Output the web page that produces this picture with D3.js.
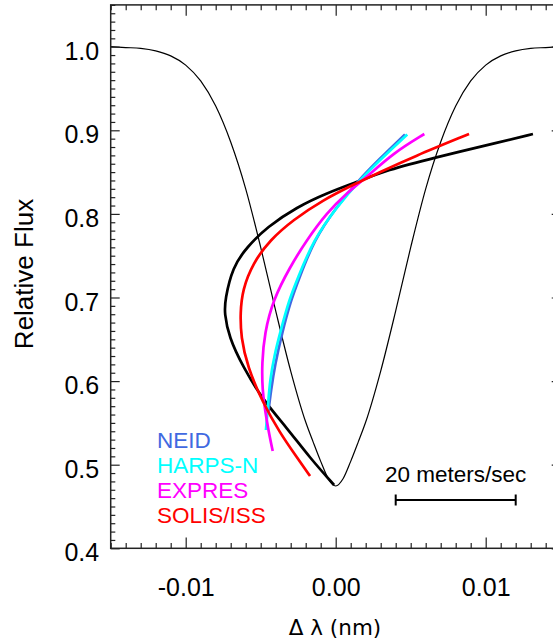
<!DOCTYPE html>
<html><head><meta charset="utf-8">
<script src="https://cdn.jsdelivr.net/npm/d3@7"></script>
<style>html,body{margin:0;padding:0;background:#fff;overflow:hidden}</style>
</head><body><svg id="c" width="553" height="644"></svg>
<script>
// ---------- data ----------
const xDomain = [-0.015, 0.015];
const yDomain = [0.4, 1.05];
const xMajorTicks = [-0.01, 0, 0.01];
const xTickLabels = ["-0.01", "0.00", "0.01"];
const yMajorTicks = [0.4, 0.5, 0.6, 0.7, 0.8, 0.9, 1.0];
const yTickLabels = ["0.4", "0.5", "0.6", "0.7", "0.8", "0.9", "1.0"];

// line profile (thin black)
const profileX = [-0.015,-0.014,-0.013,-0.012,-0.011,-0.010,-0.009,-0.008,-0.007,-0.006,-0.005,-0.004,-0.003,-0.002,-0.0015,-0.001,-0.0005,0,0.0005,0.001,0.0015,0.002,0.003,0.004,0.005,0.006,0.007,0.008,0.009,0.010,0.011,0.012,0.013,0.014,0.015];
const profileY = [1.000,0.999,0.998,0.995,0.989,0.978,0.959,0.929,0.886,0.830,0.760,0.684,0.612,0.551,0.527,0.504,0.4835,0.4745,0.4835,0.504,0.527,0.551,0.612,0.684,0.760,0.830,0.886,0.929,0.959,0.978,0.989,0.995,0.998,0.999,1.000];

// bisectors
const blackX = [-0.00011,-0.00171,-0.00325,-0.00485,-0.00618,-0.00712,-0.00742,-0.00738,-0.00688,-0.00591,-0.00458,-0.00258,-0.00058,0.00142,0.00342,0.00649,0.01095,0.01315];
const blackY = [0.4757,0.508,0.5439,0.5774,0.6169,0.6528,0.6815,0.697,0.7365,0.7604,0.7843,0.8083,0.825,0.8382,0.8525,0.8669,0.886,0.8956];

const neidX = [-0.00451,-0.00431,-0.00405,-0.00358,-0.00298,-0.00248,-0.00145,0.00005,0.00155,0.00285,0.00462];
const neidY = [0.5606,0.5894,0.6193,0.6575,0.697,0.7209,0.7688,0.8083,0.8406,0.8645,0.895];

const harpsX = [-0.00465,-0.00451,-0.00438,-0.00408,-0.00371,-0.00311,-0.00258,-0.00149,0.00007,0.00162,0.00295,0.00477];
const harpsY = [0.5415,0.5714,0.6013,0.6312,0.6575,0.697,0.7209,0.7688,0.8083,0.8406,0.8645,0.895];

const expresX = [-0.0042,-0.00449,-0.00471,-0.00489,-0.00492,-0.00474,-0.00418,-0.00305,-0.00193,-0.0006,0.00073,0.00207,0.00384,0.00591];
const expresY = [0.5164,0.5415,0.5654,0.5894,0.6217,0.6575,0.697,0.7365,0.7688,0.8011,0.825,0.8441,0.8729,0.8956];

const solisX = [-0.00171,-0.00265,-0.00371,-0.00485,-0.00588,-0.00632,-0.00636,-0.00622,-0.00551,-0.00438,-0.00285,-0.00085,0.00115,0.00295,0.00515,0.00889];
const solisY = [0.4865,0.5104,0.5379,0.5738,0.6169,0.6528,0.6815,0.709,0.7413,0.7688,0.7927,0.8166,0.8346,0.8501,0.8681,0.8956];

const seriesNames = ["NEID", "HARPS-N", "EXPRES", "SOLIS/ISS"];
const seriesColors = ["#4169e1", "#00ffff", "#ff00ff", "#ff0000"];

const scaleBarX = [0.004, 0.012];
const scaleBarLabel = "20 meters/sec";

// ---------- layout ----------
const L = 110.7, R = 560.7, T = 4.9, B = 548.3;
const FONT = "'Liberation Sans', Arial, Helvetica, sans-serif";

const svg = d3.select("#c");
const x = d3.scaleLinear().domain(xDomain).range([L, R]);
const y = d3.scaleLinear().domain(yDomain).range([B, T]);

svg.append("defs").append("clipPath").attr("id", "clip")
  .append("rect").attr("x", L).attr("y", T).attr("width", R - L).attr("height", B - T);

const plot = svg.append("g").attr("clip-path", "url(#clip)");

// profile
const profLine = d3.line().x(d => x(d[0])).y(d => y(d[1])).curve(d3.curveMonotoneX);
plot.append("path").datum(d3.zip(profileX, profileY))
  .attr("d", profLine).attr("fill", "none").attr("stroke", "#000").attr("stroke-width", 1.2);

const bis = d3.line().x(d => x(d[0])).y(d => y(d[1])).curve(d3.curveBasis);
const series = [
  {x: blackX, y: blackY, c: "#000"},
  {x: neidX, y: neidY, c: seriesColors[0]},
  {x: harpsX, y: harpsY, c: seriesColors[1]},
  {x: expresX, y: expresY, c: seriesColors[2]},
  {x: solisX, y: solisY, c: seriesColors[3]}
];
series.forEach(s => {
  plot.append("path").datum(d3.zip(s.x, s.y))
    .attr("d", bis).attr("fill", "none").attr("stroke", s.c).attr("stroke-width", 2.7)
    .attr("stroke-linecap", "butt").attr("stroke-linejoin", "round");
});

// ---------- axes ----------
const xMinor = d3.range(-15, 16).map(v => v / 1000).filter(v => !xMajorTicks.some(m => Math.abs(m - v) < 1e-9));
const yMinor = d3.range(40, 106).map(v => v / 100).filter(v => !yMajorTicks.some(m => Math.abs(m - v) < 1e-9));
const AX = "#222";

function addAxis(gen, tx, ty) {
  const g = svg.append("g").attr("transform", `translate(${tx},${ty})`).attr("color", AX).call(gen);
  g.select(".domain").remove();
  g.selectAll(".tick line").attr("stroke-width", 1.2);
  return g;
}
// bottom
addAxis(d3.axisBottom(x).tickValues(xMinor).tickSizeInner(-5.4).tickSizeOuter(0).tickFormat(""), 0, B);
const gb = addAxis(d3.axisBottom(x).tickValues(xMajorTicks).tickSizeInner(-10.8).tickSizeOuter(0)
  .tickFormat((d, i) => xTickLabels[i]), 0, B);
gb.selectAll("text").attr("y", 48).attr("dy", 0).attr("fill", "#000")
  .style("font-family", FONT).style("font-size", "25px");
// top
addAxis(d3.axisTop(x).tickValues(xMinor).tickSizeInner(-5.4).tickSizeOuter(0).tickFormat(""), 0, T);
addAxis(d3.axisTop(x).tickValues(xMajorTicks).tickSizeInner(-10.8).tickSizeOuter(0).tickFormat(""), 0, T);
// left
addAxis(d3.axisLeft(y).tickValues(yMinor).tickSizeInner(-4.6).tickSizeOuter(0).tickFormat(""), L, 0);
const gl = addAxis(d3.axisLeft(y).tickValues(yMajorTicks).tickSizeInner(-9).tickSizeOuter(0)
  .tickFormat((d, i) => yTickLabels[i]), L, 0);
gl.selectAll("text").attr("x", -11.5).attr("dy", 12.6).attr("fill", "#000")
  .style("font-family", FONT).style("font-size", "25px");
// right
addAxis(d3.axisRight(y).tickValues(yMinor).tickSizeInner(-4.6).tickSizeOuter(0).tickFormat(""), R, 0);
addAxis(d3.axisRight(y).tickValues(yMajorTicks).tickSizeInner(-9).tickSizeOuter(0).tickFormat(""), R, 0);

// frame
svg.append("rect").attr("x", L).attr("y", T).attr("width", R - L).attr("height", B - T)
  .attr("fill", "none").attr("stroke", AX).attr("stroke-width", 1.5);

// axis titles
svg.append("text").attr("transform", `translate(33,274) rotate(-90)`)
  .attr("text-anchor", "middle").style("font-family", FONT).style("font-size", "26px")
  .text("Relative Flux");
svg.append("text").attr("x", 335).attr("y", 635).attr("text-anchor", "middle")
  .style("font-family", "'DejaVu Sans', sans-serif").style("font-size", "21.5px")
  .text("Δ λ (nm)");

// legend
seriesNames.forEach((n, i) => {
  svg.append("text").attr("x", 157).attr("y", 448 + i * 25)
    .attr("fill", seriesColors[i]).style("font-family", FONT).style("font-size", "22.5px").text(n);
});

// scale bar
const sbY = 500;
const sb = svg.append("g").attr("stroke", "#000").attr("stroke-width", 2);
sb.append("line").attr("x1", x(scaleBarX[0])).attr("x2", x(scaleBarX[1])).attr("y1", sbY).attr("y2", sbY);
sb.append("line").attr("x1", x(scaleBarX[0])).attr("x2", x(scaleBarX[0])).attr("y1", sbY - 5.5).attr("y2", sbY + 5.5);
sb.append("line").attr("x1", x(scaleBarX[1])).attr("x2", x(scaleBarX[1])).attr("y1", sbY - 5.5).attr("y2", sbY + 5.5);
svg.append("text").attr("x", (x(scaleBarX[0]) + x(scaleBarX[1])) / 2).attr("y", 482)
  .attr("text-anchor", "middle").style("font-family", FONT).style("font-size", "22.5px")
  .text(scaleBarLabel);
</script>
</body></html>
